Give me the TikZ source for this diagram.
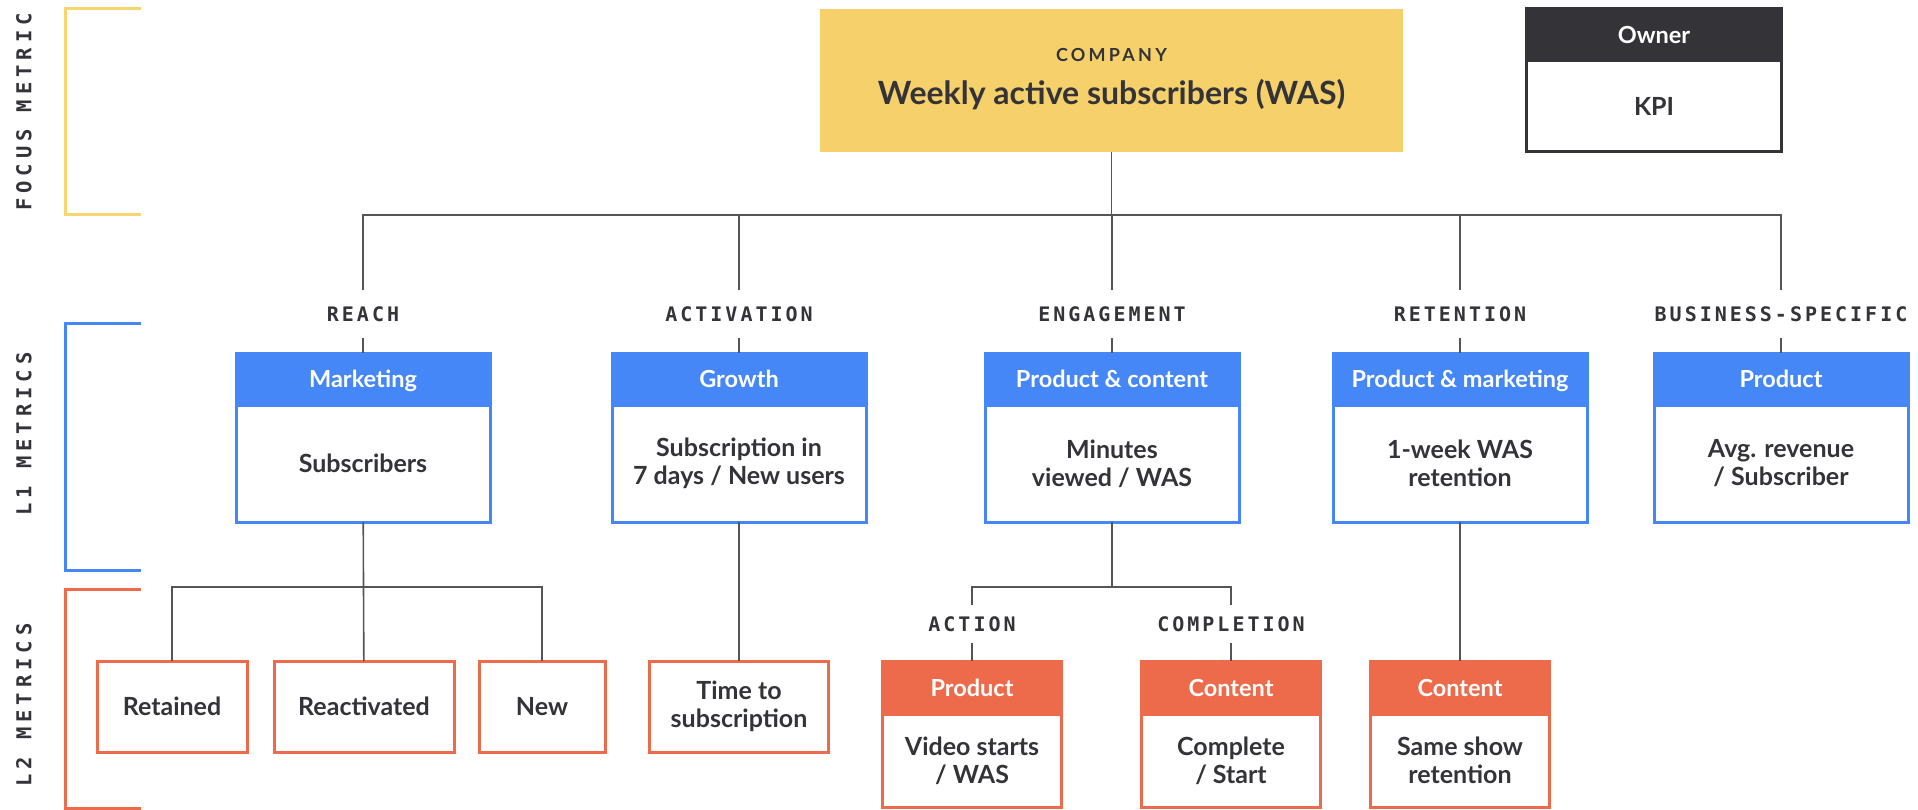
\documentclass[tikz,border=0pt]{standalone}
\usepackage{fontspec}
\setmainfont{Lato}
\newfontfamily\tagfamily{DejaVu Sans Mono}[LetterSpace=15]
\newfontfamily\sidefamily{DejaVu Sans Mono}[LetterSpace=24]
\newfontfamily\capsfamily{Lato}[LetterSpace=18]
\usetikzlibrary{positioning}
\definecolor{kpiyellow}{RGB}{246,208,107}
\definecolor{kpiyellowline}{RGB}{249,213,114}
\definecolor{kpiblue}{RGB}{69,135,247}
\definecolor{kpiorange}{RGB}{237,106,75}
\definecolor{kpidark}{RGB}{51,51,56}
\definecolor{kpigray}{RGB}{85,85,85}
\newcommand{\boxfont}{\fontsize{25}{28}\selectfont\bfseries}
\newcommand{\headfont}{\fontsize{23.5}{26}\selectfont\bfseries}

\tikzset{
  every node/.style={inner sep=0pt, outer sep=0pt, text=kpidark, align=center},
  tag/.style={font=\tagfamily\bfseries\fontsize{20}{20}\selectfont, minimum height=48},
  side/.style={rotate=90, font=\sidefamily\bfseries\fontsize{20.5}{20}\selectfont},
  head/.style={fill=#1, draw=#1, line width=3, text=white, minimum height=52, font=\headfont,
    text height=17pt, text depth=0pt},
  body/.style={draw=#1, line width=3, font=\boxfont},
  l1head/.style={head=kpiblue, minimum width=254},
  l1body/.style={body=kpiblue, minimum width=254, minimum height=117},
  l2head/.style={head=kpiorange, minimum width=179, minimum height=53},
  l2body/.style={body=kpiorange, minimum width=179, minimum height=93},
  l2box/.style={body=kpiorange, minimum height=91},
  link/.style={draw=kpigray, line width=1.6},
  bracket/.style={line width=3},
}

\begin{document}
\begin{tikzpicture}[x=1pt, y=-1pt]
\useasboundingbox (0,0) rectangle (1918,810);

% Level brackets
\draw[bracket, kpiyellowline] (141,9) -| (65,215) -- (141,215);
\draw[bracket, kpiblue] (141,323) -| (65,570) -- (141,570);
\draw[bracket, kpiorange] (141,589) -| (65,808) -- (141,808);
\node[side] (focuslbl) at (24,112) {FOCUS METRIC};
\node[side] (l1lbl) at (24,434) {L1 METRICS};
\node[side] (l2lbl) at (24,705) {L2 METRICS};

% Focus metric
\node[fill=kpiyellow, minimum width=583, minimum height=143] (company) at (1111.5,81) {};
\node[font=\capsfamily\bfseries\fontsize{18}{20}\selectfont] (companytag) at (1111.5,55) {COMPANY};
\node[font=\bfseries\fontsize{32}{36}\selectfont] (wastitle) at (1111.5,95) {Weekly active subscribers (WAS)};

% Legend
\node[head=kpidark, minimum width=255] (owner) at (1654,35) {Owner};
\node[body=kpidark, minimum width=255, minimum height=91, below=0pt of owner] (kpi) {KPI};

% Categories
\node[tag] (reach) at (363,314) {REACH};
\node[tag] (activation) at (739,314) {ACTIVATION};
\node[tag] (engagement) at (1112,314) {ENGAGEMENT};
\node[tag] (retention) at (1460,314) {RETENTION};
\node[tag] (business) at (1781,314) {BUSINESS-SPECIFIC};

% L1 metrics
\node[l1head] (mkthead) at (363,379) {Marketing};
\node[l1body, below=0pt of mkthead] (mkt) {Subscribers};
\node[l1head] (growthhead) at (739,379) {Growth};
\node[l1body, below=0pt of growthhead] (growth) {Subscription in\\7 days / New users};
\node[l1head] (pchead) at (1112,379) {Product \& content};
\node[l1body, below=0pt of pchead] (pc) {Minutes\\viewed / WAS};
\node[l1head] (pmhead) at (1460,379) {Product \& marketing};
\node[l1body, below=0pt of pmhead] (pm) {1-week WAS\\retention};
\node[l1head] (prodhead) at (1781,379) {Product};
\node[l1body, below=0pt of prodhead] (prod) {Avg. revenue\\/ Subscriber};

% L2 metrics
\node[l2box, minimum width=150] (retained) at (172,706.5) {Retained};
\node[l2box, minimum width=180] (reactivated) at (364,706.5) {Reactivated};
\node[l2box, minimum width=126] (new) at (542,706.5) {New};
\node[l2box, minimum width=179] (timesub) at (739,706.5) {Time to\\subscription};
\node[tag, minimum height=38] (action) at (972,624) {ACTION};
\node[tag, minimum height=38] (completion) at (1231,624) {COMPLETION};
\node[l2head] (actionhead) at (972,687.5) {Product};
\node[l2body, below=0pt of actionhead] (videostarts) {Video starts\\/ WAS};
\node[l2head] (completionhead) at (1231,687.5) {Content};
\node[l2body, below=0pt of completionhead] (complete) {Complete\\/ Start};
\node[l2head] (showhead) at (1460,687.5) {Content};
\node[l2body, below=0pt of showhead] (sameshow) {Same show\\retention};

% Connectors
\coordinate (bus) at (1111.5,215);
\draw[link] (company) -- (bus);
\draw[link] (reach.north) |- (bus) -| (business.north);
\draw[link] (activation.north) -- (activation.north |- bus);
\draw[link] (engagement.north) -- (engagement.north |- bus);
\draw[link] (retention.north) -- (retention.north |- bus);
\foreach \cat/\cathead in {reach/mkthead, activation/growthhead, engagement/pchead, retention/pmhead, business/prodhead}
  \draw[link] (\cat) -- (\cathead);

\coordinate (reachsplit) at (363,587);
\draw[link] (mkt) -- (reactivated);
\draw[link] (retained) |- (reachsplit) -| (new);
\draw[link] (growth) -- (timesub);

\coordinate (engsplit) at (1112,587);
\draw[link] (pc) -- (engsplit);
\draw[link] (action) |- (engsplit) -| (completion);
\draw[link] (action) -- (actionhead);
\draw[link] (completion) -- (completionhead);
\draw[link] (pm) -- (showhead);
\end{tikzpicture}
\end{document}
